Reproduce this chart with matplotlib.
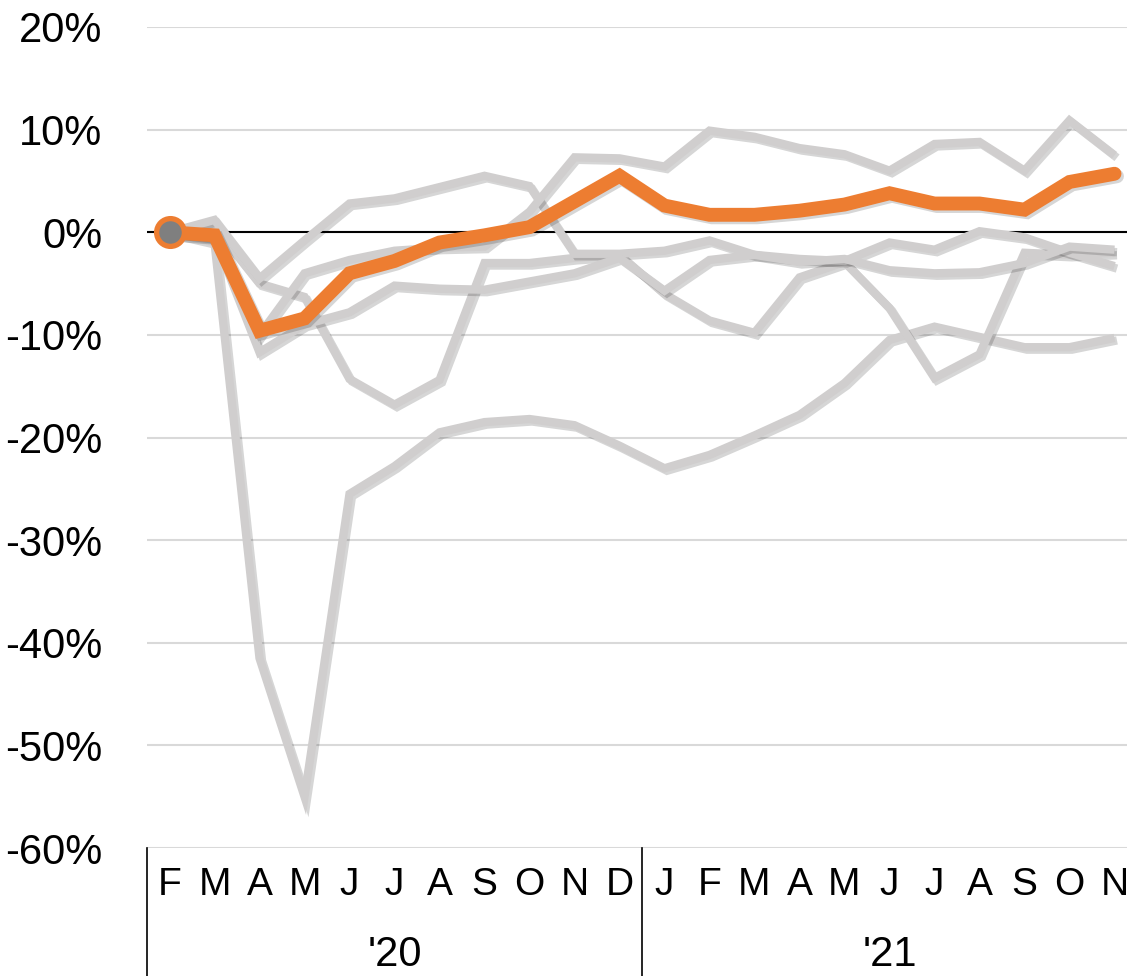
import matplotlib
matplotlib.use("Agg")
import matplotlib.pyplot as plt
import matplotlib.patheffects as pe

# Monate Feb 2020 .. Nov 2021
months = ['F', 'M', 'A', 'M', 'J', 'J', 'A', 'S', 'O', 'N', 'D',
          'J', 'F', 'M', 'A', 'M', 'J', 'J', 'A', 'S', 'O', 'N']
years = ["'20", "'21"]
yticks = [20, 10, 0, -10, -20, -30, -40, -50, -60]
ytick_labels = ['20%', '10%', '0%', '-10%', '-20%', '-30%', '-40%', '-50%', '-60%']

# hervorgehobene Reihe (orange), Veraenderung in %
highlight = [0, -0.3, -9.6, -8.4, -4.0, -2.8, -1.0, -0.3, 0.5, 3.0, 5.5,
             2.6, 1.7, 1.7, 2.1, 2.7, 3.8, 2.8, 2.8, 2.2, 4.9, 5.7]

# graue Vergleichsreihen
series_a = [0, -1.0, -41.5, -55.0, -25.5, -22.8, -19.5, -18.5, -18.2, -18.8, -20.8,
            -23.0, -21.7, -19.8, -17.8, -14.7, -10.5, -9.2, -10.2, -11.2, -11.2, -10.3]
series_b = [0, 0.5, -5.0, -6.3, -14.3, -16.8, -14.4, -3.0, -3.0, -2.5, -2.2,
            -6.0, -8.6, -9.8, -4.4, -2.9, -7.4, -14.2, -11.9, -2.0, -2.2, -2.0]
series_c = [0, 1.2, -4.5, -0.8, 2.8, 3.3, 4.4, 5.5, 4.5, -2.1, -2.1,
            -1.8, -0.8, -2.2, -2.6, -2.8, -1.0, -1.7, 0.1, -0.5, -2.0, -3.3]
series_d = [0, -0.5, -11.7, -9.0, -7.8, -5.2, -5.5, -5.6, -4.8, -4.0, -2.5,
            -5.7, -2.7, -2.2, -2.9, -2.6, -3.7, -4.0, -3.9, -3.0, -1.4, -1.7]
series_e = [0, -0.3, -10.0, -4.0, -2.7, -1.8, -1.5, -1.4, 2.0, 7.3, 7.2,
            6.4, 9.9, 9.3, 8.2, 7.6, 6.0, 8.6, 8.8, 6.0, 10.9, 7.5]
grey_series = [series_a, series_b, series_c, series_d, series_e]

GREY = '#D0CECE'
ORANGE = '#ED7D31'
plt.rcParams['font.family'] = ['Liberation Sans', 'DejaVu Sans']

fig = plt.figure(figsize=(11.27, 9.76), dpi=100)
W, H = 1127, 976
ax = fig.add_axes([147 / W, 128 / H, 980 / W, 821 / H])

x = list(range(len(months)))
shadow = [pe.SimpleLineShadow(offset=(1.8, -1.8), shadow_color='k', alpha=0.16), pe.Normal()]

for s in grey_series:
    ax.plot(x, s, color=GREY, lw=6, solid_joinstyle='miter', solid_capstyle='butt',
            path_effects=shadow, zorder=3)

ax.plot(x, highlight, color=ORANGE, lw=10, solid_joinstyle='miter', solid_capstyle='round',
        path_effects=shadow, zorder=4)
ax.plot(x[0], highlight[0], marker='o', ms=20, mfc='#7F7F7F', mec=ORANGE, mew=3.8, zorder=5)

ax.axhline(0, color='black', lw=1.5, zorder=2)

# Achsen
ax.set_ylim(-60, 20)
ax.set_xlim(-0.5, -0.5 + 980 / 45)
ax.set_yticks(yticks)
ax.set_yticklabels(ytick_labels, fontsize=30)
ax.set_xticks(x)
ax.set_xticklabels(months, fontsize=28)
ax.tick_params(axis='y', length=0, pad=32)
ax.tick_params(axis='x', length=0, pad=14)
ax.grid(axis='y', color='#D9D9D9', lw=1.5, zorder=1)
ax.set_axisbelow(True)
for sp in ax.spines.values():
    sp.set_visible(False)

# Jahresgruppen unter der Achse
trans = ax.get_xaxis_transform()
for xs in [-0.5, 10.5]:
    ax.plot([xs, xs], [0, -0.16], color='black', lw=1.2, transform=trans, clip_on=False)
ax.text(5, -0.13, years[0], transform=trans, ha='center', va='center', fontsize=30)
ax.text(16, -0.13, years[1], transform=trans, ha='center', va='center', fontsize=30)

fig.savefig('out.png', dpi=100)
